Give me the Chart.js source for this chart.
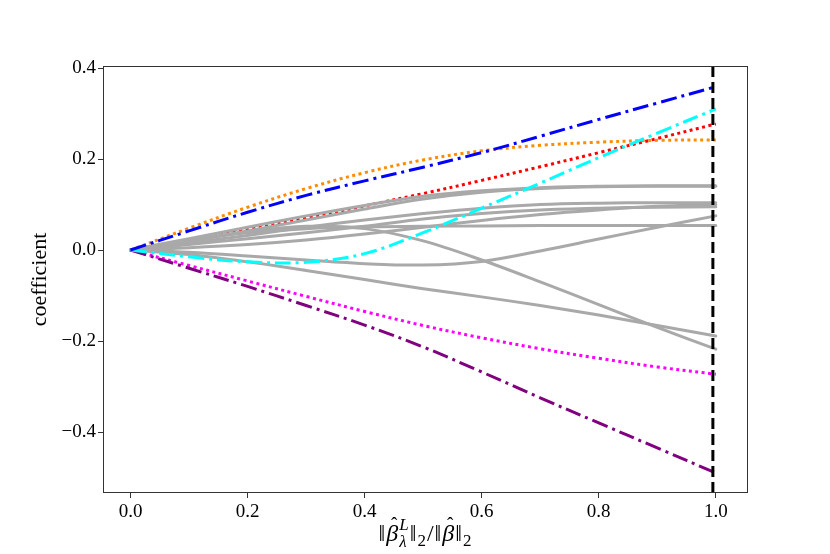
<!DOCTYPE html>
<html>
<head>
<meta charset="utf-8">
<script src="https://cdn.jsdelivr.net/npm/chart.js@4.4.1/dist/chart.umd.min.js"></script>
<style>
  html, body { margin: 0; padding: 0; background: #fff; }
  #wrap { width: 830px; height: 554px; }
</style>
</head>
<body>
<div id="wrap"><canvas id="chart" width="830" height="554"></canvas></div>
<script>
// lasso path: coefficient vs relative norm
const ratio = [0, 0.1, 0.2, 0.3, 0.4, 0.5, 0.6, 0.7, 0.8, 0.9, 1.0];

const blueCoef    = [0, 0.042, 0.083, 0.12, 0.152, 0.182, 0.214, 0.25, 0.287, 0.323, 0.359];
const orangeCoef  = [0, 0.048, 0.094, 0.135, 0.17, 0.198, 0.218, 0.23, 0.237, 0.241, 0.242];
const redCoef     = [0, 0.022, 0.045, 0.07, 0.097, 0.124, 0.153, 0.183, 0.214, 0.245, 0.277];
const cyanCoef    = [0, -0.015, -0.026, -0.027, -0.008, 0.038, 0.092, 0.147, 0.203, 0.257, 0.31];
const magentaCoef = [0, -0.034, -0.068, -0.102, -0.135, -0.166, -0.193, -0.217, -0.238, -0.257, -0.273];
const purpleCoef  = [0, -0.04, -0.08, -0.122, -0.165, -0.213, -0.268, -0.325, -0.38, -0.435, -0.49];

const grayA = [0, 0.025, 0.05, 0.075, 0.098, 0.118, 0.13, 0.137, 0.14, 0.141, 0.141];
const grayB = [0, 0.02, 0.042, 0.066, 0.09, 0.112, 0.127, 0.135, 0.139, 0.14, 0.14];
const grayC = [0, 0.016, 0.032, 0.05, 0.066, 0.08, 0.092, 0.1, 0.103, 0.104, 0.104];
const grayD = [0, 0.012, 0.025, 0.038, 0.052, 0.068, 0.08, 0.088, 0.092, 0.094, 0.095];
const grayE = [0, 0.005, 0.012, 0.022, 0.035, 0.05, 0.065, 0.078, 0.088, 0.096, 0.1];
const grayF = [0, -0.005, -0.013, -0.022, -0.03, -0.033, -0.025, -0.002, 0.024, 0.05, 0.075];
const grayG = [0, 0.022, 0.038, 0.047, 0.051, 0.052, 0.053, 0.054, 0.054, 0.054, 0.054];
const grayH = [0, 0.02, 0.04, 0.052, 0.047, 0.02, -0.022, -0.07, -0.12, -0.17, -0.218];
const grayI = [0, -0.01, -0.026, -0.045, -0.065, -0.085, -0.103, -0.122, -0.143, -0.166, -0.189];

const chosenRatio = 0.995;   // dashed vertical marker
const xTicks = [0, 0.2, 0.4, 0.6, 0.8, 1.0];
const yTicks = [-0.4, -0.2, 0, 0.2, 0.4];
const xRange = [-0.047, 1.055];
const yRange = [-0.534, 0.4044];

const FONT = "'Liberation Serif', 'DejaVu Serif', serif";
const pts = ys => ratio.map((x, i) => ({ x: x, y: ys[i] }));
const dotted = [3, 3.5];
const dashDot = [16, 5, 3, 5];

function line(ys, color, dash) {
  return {
    data: pts(ys), borderColor: color, borderWidth: 3, borderDash: dash || [],
    pointRadius: 0, fill: false, tension: 0.35,
    borderCapStyle: dash ? "butt" : "round"
  };
}

const grays = [grayA, grayB, grayC, grayD, grayE, grayF, grayG, grayH, grayI]
  .map(g => line(g, "#a9a9a9"));

// first dataset ends up on top
const datasets = [
  {
    data: [{ x: chosenRatio, y: yRange[0] }, { x: chosenRatio, y: yRange[1] }],
    borderColor: "#000", borderWidth: 3, borderDash: [11, 5], pointRadius: 0
  },
  line(blueCoef, "#0000ff", dashDot),
  line(cyanCoef, "#00ffff", dashDot),
  line(purpleCoef, "#800080", dashDot),
  line(orangeCoef, "#ff8c00", dotted),
  line(magentaCoef, "#ff00ff", dotted),
  ...grays,
  line(redCoef, "#ff0000", dotted)
];

const frame = {
  id: "frame",
  afterDatasetsDraw(chart) {
    const a = chart.chartArea, ctx = chart.ctx;
    ctx.save();
    ctx.strokeStyle = "#333";
    ctx.lineWidth = 1;
    ctx.strokeRect(Math.round(a.left) + 0.5, Math.round(a.top) + 0.5,
      Math.round(a.right - a.left) - 1, Math.round(a.bottom - a.top) - 1);
    ctx.restore();
  },
  afterDraw(chart) {
    const a = chart.chartArea, ctx = chart.ctx;
    ctx.save();
    ctx.fillStyle = "#000";
    // y label
    ctx.font = "22px " + FONT;
    ctx.textAlign = "center";
    ctx.textBaseline = "middle";
    ctx.translate(40, (a.top + a.bottom) / 2);
    ctx.rotate(-Math.PI / 2);
    ctx.fillText("coefficient", 0, 0);
    ctx.restore();

    // x label  ||beta_lambda^L||_2 / ||beta||_2
    ctx.save();
    ctx.fillStyle = "#000";
    ctx.textBaseline = "alphabetic";
    ctx.textAlign = "left";
    const big = "24px " + FONT, bigI = "italic 24px " + FONT;
    const small = "17px " + FONT, smallI = "italic 17px " + FONT;
    const parts = [
      { t: "\u2016", f: big },
      { t: "\u03b2", f: bigI, hat: true },
      { t: "L", f: smallI, dy: -11, stack: { t: "\u03bb", f: smallI, dy: 6 } },
      { t: "\u2016", f: big },
      { t: "2", f: small, dy: 5 },
      { t: "/", f: big },
      { t: "\u2016", f: big },
      { t: "\u03b2", f: bigI, hat: true },
      { t: "\u2016", f: big },
      { t: "2", f: small, dy: 5 }
    ];
    let total = 0;
    parts.forEach(p => {
      ctx.font = p.f;
      p.w = ctx.measureText(p.t).width;
      if (p.stack) { ctx.font = p.stack.f; p.w = Math.max(p.w, ctx.measureText(p.stack.t).width); }
      total += p.w + 1;
    });
    let x = (a.left + a.right) / 2 - total / 2;
    const base = 541;
    parts.forEach(p => {
      ctx.font = p.f;
      ctx.fillText(p.t, x, base + (p.dy || 0));
      if (p.hat) {
        ctx.font = "19px " + FONT;
        ctx.textAlign = "center";
        ctx.fillText("\u02c6", x + p.w / 2 + 2, base - 11);
        ctx.textAlign = "left";
      }
      if (p.stack) {
        ctx.font = p.stack.f;
        ctx.fillText(p.stack.t, x, base + p.stack.dy);
      }
      x += p.w + 1;
    });
    ctx.restore();
  }
};

new Chart(document.getElementById("chart"), {
  type: "line",
  data: { datasets: datasets },
  options: {
    responsive: false,
    animation: false,
    devicePixelRatio: 1,
    layout: { padding: { top: 66, right: 82, left: 0, bottom: 0 } },
    plugins: { legend: { display: false }, tooltip: { enabled: false } },
    scales: {
      x: {
        type: "linear", min: xRange[0], max: xRange[1],
        afterBuildTicks: s => { s.ticks = xTicks.map(v => ({ value: v })); },
        afterFit: s => { s.height = 61; },
        grid: { drawOnChartArea: false, drawTicks: true, tickLength: 5, tickColor: "#333" },
        border: { display: false },
        ticks: {
          color: "#000", padding: 3, maxRotation: 0,
          font: { family: FONT, size: 19 },
          callback: v => v.toFixed(1)
        }
      },
      y: {
        type: "linear", min: yRange[0], max: yRange[1],
        afterBuildTicks: s => { s.ticks = yTicks.map(v => ({ value: v })); },
        afterFit: s => { s.width = 103; },
        grid: { drawOnChartArea: false, drawTicks: true, tickLength: 5, tickColor: "#333" },
        border: { display: false },
        ticks: {
          color: "#000", padding: 2,
          font: { family: FONT, size: 19 },
          callback: v => (v < 0 ? "\u2212" : "") + Math.abs(v).toFixed(1)
        }
      }
    }
  },
  plugins: [frame]
});
</script>
</body>
</html>
